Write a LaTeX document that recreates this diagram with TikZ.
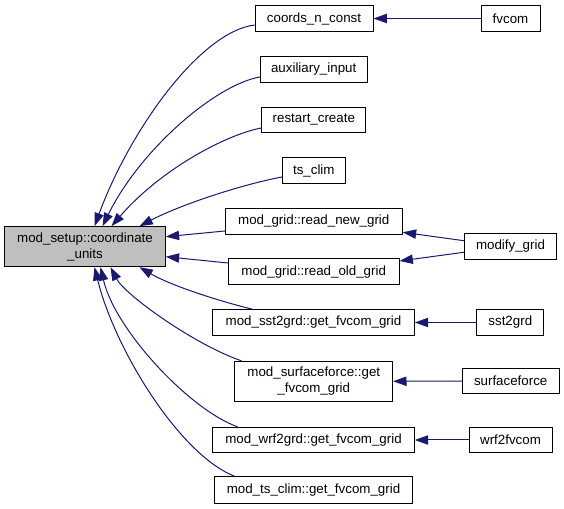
\documentclass[tikz,border=0pt]{standalone}
\usepackage{fontspec}
\setmainfont{Liberation Sans}
\usetikzlibrary{arrows.meta,calc}
\definecolor{edgecol}{HTML}{191970}
\definecolor{setupfill}{HTML}{BFBFBF}
\begin{document}
\begin{tikzpicture}[x=0.75pt,y=-0.75pt,
  box/.style={draw=black,fill=white,inner sep=0pt,align=center,line width=0.75pt,
    font=\fontsize{10}{12}\selectfont,minimum height=19.1pt},
  edge/.style={draw=edgecol,line width=0.75pt,-{Triangle[length=10pt,width=7pt]}}]
\useasboundingbox (0,0) rectangle (564,509);
% nodes
\node[box,fill=setupfill,minimum width=120.45pt,minimum height=30pt] (setup) at (85,246.7) {mod\_setup::coordinate\\\_units};
\node[box,minimum width=88.5pt] (cnc) at (314,18.5) {coords\_n\_const};
\node[box,minimum width=44.25pt] (fvcom) at (510.5,18.5) {fvcom};
\node[box,minimum width=80pt] (aux) at (313.7,69.3) {auxiliary\_input};
\node[box,minimum width=78.2pt] (restart) at (313.8,119.8) {restart\_create};
\node[box,minimum width=47.25pt] (tsclim) at (313.8,170.7) {ts\_clim};
\node[box,minimum width=132.75pt] (rng) at (313.8,221.3) {mod\_grid::read\_new\_grid};
\node[box,minimum width=69.3pt] (modify) at (510.5,246.3) {modify\_grid};
\node[box,minimum width=128pt] (rog) at (313.7,271.7) {mod\_grid::read\_old\_grid};
\node[box,minimum width=151.2pt] (sst) at (313.5,322.5) {mod\_sst2grd::get\_fvcom\_grid};
\node[box,minimum width=50pt] (sst2grd) at (510.3,322.5) {sst2grd};
\node[box,minimum width=118.3pt,minimum height=30pt] (sfc) at (313.8,381.3) {mod\_surfaceforce::get\\\_fvcom\_grid};
\node[box,minimum width=72.5pt] (surfaceforce) at (510.7,381) {surfaceforce};
\node[box,minimum width=151.2pt] (wrf) at (313.5,440) {mod\_wrf2grd::get\_fvcom\_grid};
\node[box,minimum width=62.25pt] (wrf2fvcom) at (510.5,440) {wrf2fvcom};
\node[box,minimum width=148.2pt,minimum height=20pt] (tsgrid) at (313.5,490) {mod\_ts\_clim::get\_fvcom\_grid};
% edges to setup (top)
\draw[edge] ($(cnc.west)+(0,6.5)$) .. controls (200,32) and (130,130) .. ($(setup.north west)+(90.3,0)$);
\draw[edge] ($(aux.west)+(0,7.7)$) .. controls (215,85) and (140,150) .. ($(setup.north west)+(98.3,0)$);
\draw[edge] ($(restart.west)+(0,8.2)$) .. controls (225,135) and (160,170) .. ($(setup.north west)+(107.3,0)$);
\draw[edge] ($(tsclim.west)+(0,6.3)$) .. controls (240,185) and (180,205) .. ($(setup.north west)+(135.3,0)$);
% edges to setup (right)
\draw[edge] ($(rng.west)+(0,9.7)$) -- ($(setup.east)+(0,-10)$);
\draw[edge] ($(rog.west)+(0,-8.7)$) -- ($(setup.east)+(0,10)$);
% edges to setup (bottom)
\draw[edge] ($(sst.north west)+(40.3,0)$) .. controls (215,300) and (170,285) .. ($(setup.south west)+(135.3,0)$);
\draw[edge] ($(sfc.north west)+(7,0)$) .. controls (195,345) and (125,295) .. ($(setup.south west)+(106.3,0)$);
\draw[edge] ($(wrf.north west)+(25.3,0)$) .. controls (190,410) and (115,330) .. ($(setup.south west)+(96.3,0)$);
\draw[edge] ($(tsgrid.north west)+(20.3,0)$) .. controls (180,455) and (115,350) .. ($(setup.south west)+(90.3,0)$);
% right-hand edges
\draw[edge] (fvcom.west) -- (cnc.east);
\draw[edge] ($(modify.west)+(0,-5.6)$) -- ($(rng.east)+(0,11)$);
\draw[edge] ($(modify.west)+(0,6)$) -- ($(rog.east)+(0,-10.7)$);
\draw[edge] (sst2grd.west) -- (sst.east);
\draw[edge] (surfaceforce.west) -- (sfc.east);
\draw[edge] (wrf2fvcom.west) -- (wrf.east);
\end{tikzpicture}
\end{document}
